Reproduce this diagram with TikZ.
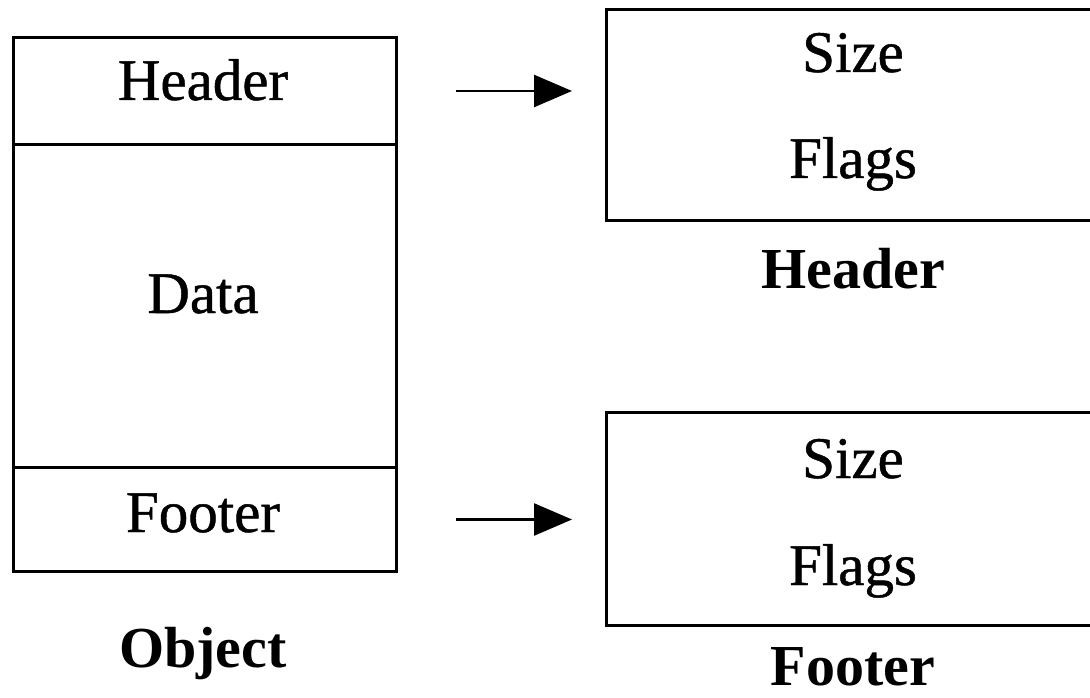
\documentclass[tikz,border=0pt]{standalone}
\usepackage{fontspec}
\setmainfont{Liberation Serif}
\newfontfamily\heavyserif[FakeBold=0.8]{Liberation Serif}
\usetikzlibrary{arrows.meta}
\begin{document}
\begin{tikzpicture}[x=1pt,y=-1pt,
  part/.style={draw, line width=3pt, minimum width=383pt, inner sep=0pt, anchor=north west},
  field/.style={font=\fontsize{59}{62}\heavyserif, anchor=base, inner sep=0pt},
  caption/.style={font=\fontsize{58}{62}\selectfont\bfseries, anchor=base, inner sep=0pt},
  rbox/.style={minimum width=484pt, inner sep=0pt, anchor=north west},
  outline/.style={line width=3pt, line join=miter},
  conn/.style={line width=2.5pt, -{Triangle[length=38pt,width=32pt]},
               shorten <=58pt, shorten >=34pt}]
\useasboundingbox (0,0) rectangle (1090,698);

% object layout: header, data and footer stacked
\node[part, minimum height=107pt] (hdr)  at (12,36)  {};
\node[part, minimum height=323pt] (data) at (12,143) {};
\node[part, minimum height=104pt] (ftr)  at (12,466) {};
\node[field] (thdr)  at (203,100) {Header};
\node[field] (tdata) at (203,313) {Data};
\node[field] (tftr)  at (203,532) {Footer};
\node[caption] (cobj) at (203,667) {Object};

% header record
\node[rbox, minimum height=210pt] (hbox) at (606,10) {};
\draw[outline] (hbox.north east) -- (hbox.north west) -- (hbox.south west) -- (hbox.south east);
\node[field] (hsize)  at (853,72)  {Size};
\node[field] (hflags) at (853,178) {Flags};
\node[caption] (chdr) at (853,288) {Header};

% footer record
\node[rbox, minimum height=213pt] (fbox) at (606,412) {};
\draw[outline] (fbox.north east) -- (fbox.north west) -- (fbox.south west) -- (fbox.south east);
\node[field] (fsize)  at (853,478) {Size};
\node[field] (fflags) at (853,585) {Flags};
\node[caption] (cftr) at (853,685) {Footer};

% connectors
\draw[conn] (hdr.east) -- (hdr.east -| hbox.west);
\draw[conn] (ftr.east) -- (ftr.east -| fbox.west);
\end{tikzpicture}
\end{document}
